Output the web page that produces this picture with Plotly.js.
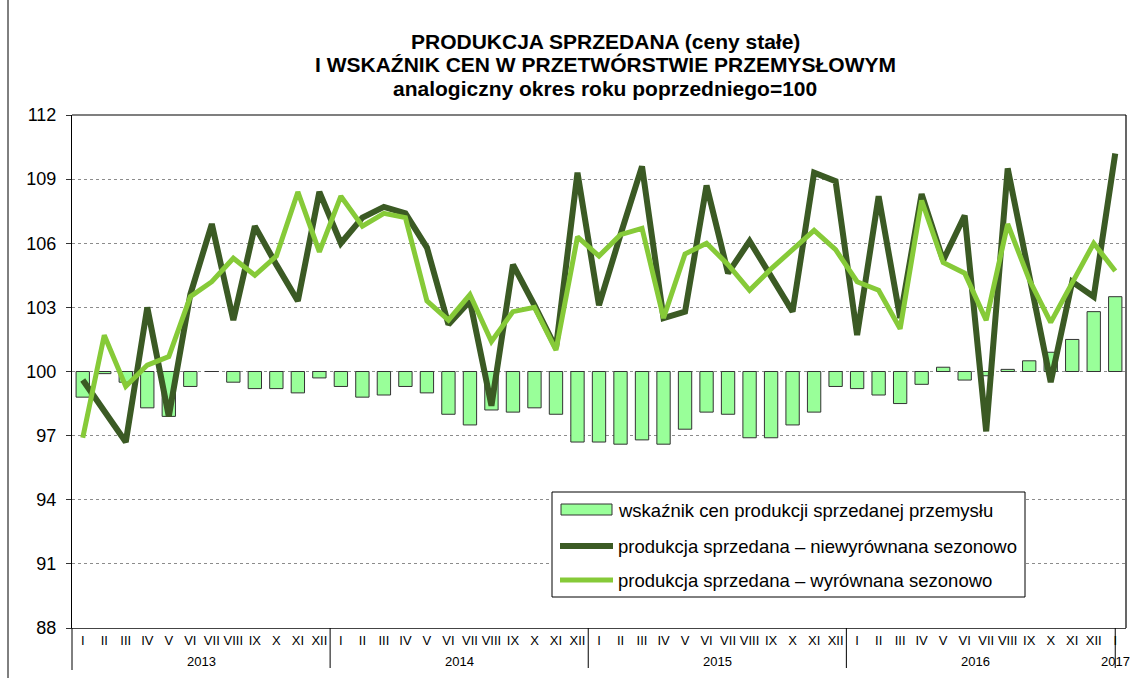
<!DOCTYPE html>
<html>
<head>
<meta charset="utf-8">
<script src="https://cdn.plot.ly/plotly-3.0.1.min.js"></script>
<style>html,body{margin:0;padding:0;background:#fff;}#chart{width:1132px;height:678px;}</style>
</head>
<body>
<div id="chart"></div>
<script>
// ---- data ----
const years = ["2013", "2014", "2015", "2016", "2017"];
const months = ["I","II","III","IV","V","VI","VII","VIII","IX","X","XI","XII"];

const priceIndex = [
  98.8, 99.9, 99.5, 98.3, 97.9, 99.3, 100.0, 99.5, 99.2, 99.2, 99.0, 99.7,
  99.3, 98.8, 98.9, 99.3, 99.0, 98.0, 97.5, 98.2, 98.1, 98.3, 98.0, 96.7,
  96.7, 96.6, 96.8, 96.6, 97.3, 98.1, 98.0, 96.9, 96.9, 97.5, 98.1, 99.3,
  99.2, 98.9, 98.5, 99.4, 100.2, 99.6, 99.8, 100.1, 100.5, 100.9, 101.5, 102.8,
  103.5
];
const prodUnadjusted = [
  99.6, 98.2, 96.7, 103.0, 97.9, 103.6, 106.9, 102.4, 106.8, 105.0, 103.3, 108.4,
  106.0, 107.2, 107.7, 107.4, 105.8, 102.2, 103.3, 98.4, 105.0, 103.1, 101.1, 109.3,
  103.1, 106.4, 109.6, 102.5, 102.8, 108.7, 104.6, 106.1, 104.4, 102.8, 109.3, 108.9,
  101.7, 108.2, 102.5, 108.3, 105.2, 107.3, 97.2, 109.5, 104.5, 99.5, 104.2, 103.5,
  110.2
];
const prodAdjusted = [
  96.9, 101.7, 99.3, 100.3, 100.7, 103.5, 104.2, 105.3, 104.5, 105.4, 108.4, 105.6,
  108.2, 106.8, 107.4, 107.2, 103.3, 102.4, 103.6, 101.4, 102.8, 103.0, 101.0, 106.3,
  105.4, 106.4, 106.7, 102.5, 105.5, 106.0, 105.0, 103.8, 104.8, 105.7, 106.6, 105.7,
  104.2, 103.8, 102.0, 108.0, 105.1, 104.6, 102.4, 106.9, 104.3, 102.3, 104.2, 106.0,
  104.7
];
const seriesNames = [
  "wskaźnik cen produkcji sprzedanej przemysłu",
  "produkcja sprzedana – niewyrównana sezonowo",
  "produkcja sprzedana – wyrównana sezonowo"
];
const titleLines = [
  "PRODUKCJA SPRZEDANA (ceny stałe)",
  "I WSKAŹNIK CEN W PRZETWÓRSTWIE PRZEMYSŁOWYM",
  "analogiczny okres roku poprzedniego=100"
];
const baseValue = 100;

// ---- derived ----
const n = priceIndex.length;
const xs = priceIndex.map((_, i) => i);
const tickText = xs.map(i => months[i % 12]);
const boundaries = [];
for (let i = 0; i <= n; i++) boundaries.push(i - 0.5);

const FONT = "Liberation Sans, Arial, sans-serif";
const DARK = "#3b5a24";
const LIGHT = "#86ca38";
const BARFILL = "#99ff99";

// geometry helpers (plot area: x 72..1126, y 115..628)
const ML = 72, MR = 6, MT = 115, MB = 50, W = 1132, H = 678;
const PW = W - ML - MR, PH = H - MT - MB;
const px = x => (x - ML) / PW;
const py = y => (H - MB - y) / PH;

const traces = [
  {
    type: "bar", x: xs, y: priceIndex.map(v => v - baseValue), base: baseValue,
    name: seriesNames[0], width: 0.62,
    marker: {color: BARFILL, line: {color: "#333333", width: 1}},
    hoverinfo: "skip"
  },
  {
    type: "scatter", mode: "lines", x: xs, y: prodUnadjusted, name: seriesNames[1],
    line: {color: DARK, width: 6}
  },
  {
    type: "scatter", mode: "lines", x: xs, y: prodAdjusted, name: seriesNames[2],
    line: {color: LIGHT, width: 5}
  }
];

const shapes = [];
shapes.push({type: "line", xref: "paper", yref: "paper", x0: 0, x1: 1, y0: 1, y1: 1, line: {color: "#555", width: 1.5}});
shapes.push({type: "line", xref: "paper", yref: "paper", x0: 1, x1: 1, y0: 0, y1: 1, line: {color: "#000", width: 1.2}});
shapes.push({type: "line", xref: "paper", yref: "paper", x0: 0, x1: 0, y0: py(670), y1: 0, line: {color: "#000", width: 1}});
for (let y = 1; y < years.length; y++) {
  let xb = y * 12 - 0.5;
  if (y === years.length - 1) xb = y * 12;
  shapes.push({type: "line", xref: "x", yref: "paper", x0: xb, x1: xb, y0: py(668), y1: 0, line: {color: "#000", width: 1}});
}
shapes.push({type: "line", xref: "paper", yref: "paper", x0: px(8), x1: px(8), y0: py(680), y1: py(-2), line: {color: "#000", width: 1}});

// manual legend
shapes.push({type: "rect", xref: "paper", yref: "paper", x0: px(552), x1: px(1025), y0: py(597), y1: py(492),
  fillcolor: "#fff", line: {color: "#000", width: 1}, layer: "above"});
const rowY = [510, 546, 580];
shapes.push({type: "rect", xref: "paper", yref: "paper", x0: px(561), x1: px(612), y0: py(515), y1: py(504),
  fillcolor: BARFILL, line: {color: "#333", width: 1}, layer: "above"});
shapes.push({type: "line", xref: "paper", yref: "paper", x0: px(560), x1: px(613), y0: py(rowY[1]), y1: py(rowY[1]),
  line: {color: DARK, width: 6}, layer: "above"});
shapes.push({type: "line", xref: "paper", yref: "paper", x0: px(560), x1: px(613), y0: py(rowY[2]), y1: py(rowY[2]),
  line: {color: LIGHT, width: 5}, layer: "above"});

const annotations = years.map((yr, k) => {
  const start = k * 12, end = Math.min(n - 1, k * 12 + 11);
  return {
    text: yr, x: (start + end) / 2, xref: "x", y: py(661), yref: "paper",
    xanchor: "center", yanchor: "middle", showarrow: false,
    font: {family: FONT, size: 13, color: "#000"}
  };
});
seriesNames.forEach((nm, i) => {
  annotations.push({
    text: nm, x: px(616), xref: "paper", y: py(rowY[i]), yref: "paper",
    xanchor: "left", yanchor: "middle", showarrow: false,
    font: {family: FONT, size: 18.5, color: "#000"}
  });
});
const titleY = [42, 65, 88];
titleLines.forEach((t, i) => {
  annotations.push({
    text: "<b>" + t + "</b>", x: px(605), xref: "paper", y: py(titleY[i]), yref: "paper",
    xanchor: "center", yanchor: "middle", showarrow: false,
    font: {family: FONT, size: 21, color: "#000"}
  });
});

const layout = {
  width: W, height: H,
  margin: {l: ML, r: MR, t: MT, b: MB},
  paper_bgcolor: "#fff", plot_bgcolor: "#fff",
  font: {family: FONT, color: "#000"},
  showlegend: false,
  xaxis: {
    range: [-0.5, n - 0.5], tickmode: "array", tickvals: xs, ticktext: tickText,
    ticks: "", showgrid: false, zeroline: false,
    showline: true, linecolor: "#444", linewidth: 1,
    tickfont: {family: FONT, size: 13, color: "#000"}, fixedrange: true
  },
  xaxis2: {
    overlaying: "x", anchor: "y", side: "bottom", range: [-0.5, n - 0.5],
    tickmode: "array", tickvals: boundaries, ticks: "outside", ticklen: 18, tickcolor: "#000", tickwidth: 1,
    showticklabels: false, showgrid: false, zeroline: false, showline: false
  },
  xaxis3: {
    overlaying: "x", anchor: "free", position: 0.5, side: "bottom", range: [-0.5, n - 0.5],
    tickmode: "array", tickvals: boundaries, ticks: "outside", ticklen: 4, tickcolor: "#000", tickwidth: 1,
    showticklabels: false, showgrid: false, zeroline: false, showline: true, linecolor: "#000", linewidth: 1.2
  },
  yaxis: {
    range: [88, 112], tickmode: "linear", tick0: 88, dtick: 3,
    ticks: "outside", ticklen: 5, tickcolor: "#333", ticklabelstandoff: 6,
    showline: true, linecolor: "#000", linewidth: 1,
    showgrid: true, gridcolor: "#8c8c8c", griddash: "dot", gridwidth: 1,
    zeroline: false, tickfont: {family: FONT, size: 18, color: "#000"}, fixedrange: true
  },
  shapes: shapes,
  annotations: annotations,
  bargap: 0.38
};

Plotly.newPlot("chart", traces, layout, {displayModeBar: false, staticPlot: true});
</script>
</body>
</html>
